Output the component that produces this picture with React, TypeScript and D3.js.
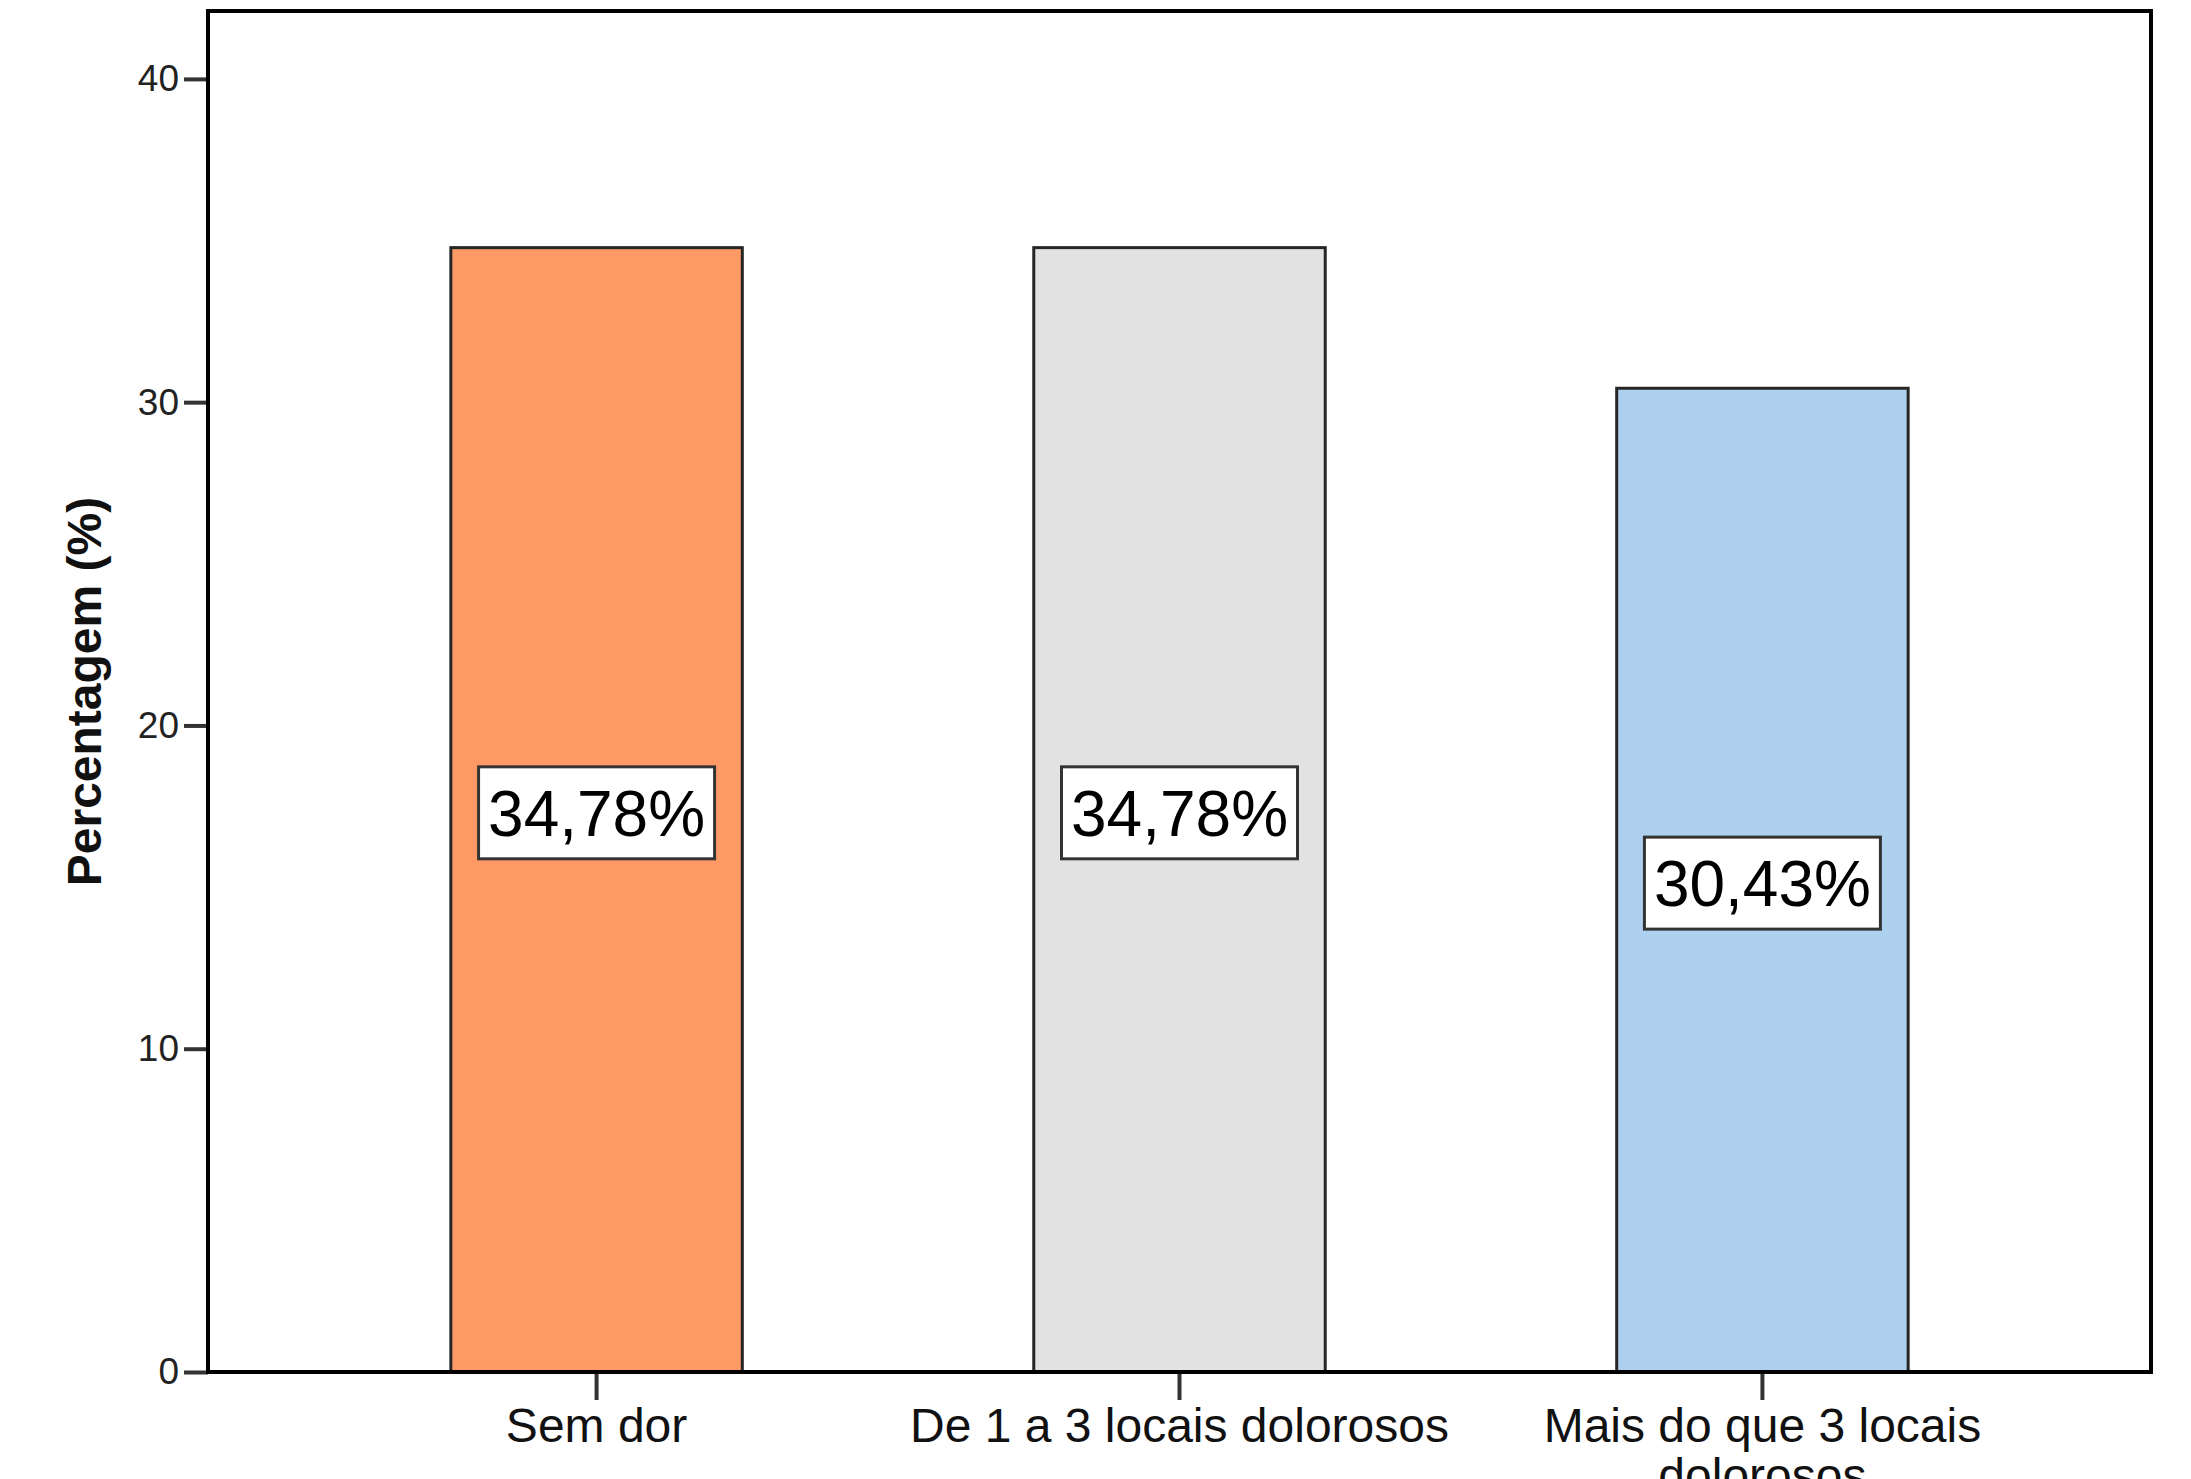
import { axisBottom, axisLeft, scaleBand, scaleLinear, select } from "d3";
import { useEffect, useRef } from "react";

const categories = ["Sem dor", "De 1 a 3 locais dolorosos", "Mais do que 3 locais dolorosos"];
const percentages = [34.78, 34.78, 30.43];
const valueLabels = ["34,78%", "34,78%", "30,43%"];
const barColors = ["#FF9966", "#E2E2E2", "#ADD0EE"];
const yTicks = [0, 10, 20, 30, 40];
const yMax = 42.1;

const WIDTH = 2191;
const HEIGHT = 1479;
const FONT = "'Liberation Sans', Arial, sans-serif";

export default function App() {
  const svgRef = useRef<SVGSVGElement | null>(null);

  useEffect(() => {
    if (!svgRef.current) return;
    const svg = select(svgRef.current);
    svg.selectAll("*").remove();

    const margin = { top: 11, right: 40, bottom: 107, left: 208 };
    const innerWidth = WIDTH - margin.left - margin.right;
    const innerHeight = HEIGHT - margin.top - margin.bottom;

    const xScale = scaleBand<string>()
      .domain(categories)
      .range([0, innerWidth])
      .paddingInner(0.5)
      .paddingOuter(0.4166);
    const yScale = scaleLinear().domain([0, yMax]).range([innerHeight, 0]);

    svg.append("rect").attr("width", WIDTH).attr("height", HEIGHT).attr("fill", "#fff");

    const chart = svg.append("g").attr("transform", `translate(${margin.left},${margin.top})`);

    // bars
    chart
      .selectAll("rect.bar")
      .data(categories)
      .join("rect")
      .attr("class", "bar")
      .attr("x", (c) => xScale(c) ?? 0)
      .attr("y", (_, i) => yScale(percentages[i]))
      .attr("width", xScale.bandwidth())
      .attr("height", (_, i) => innerHeight - yScale(percentages[i]))
      .attr("fill", (_, i) => barColors[i])
      .attr("stroke", "#262626")
      .attr("stroke-width", 3);

    // value labels in boxes
    const labels = chart
      .selectAll("g.vlabel")
      .data(categories)
      .join("g")
      .attr("class", "vlabel")
      .attr(
        "transform",
        (c, i) =>
          `translate(${(xScale(c) ?? 0) + xScale.bandwidth() / 2},${yScale(percentages[i] / 2) + 3})`,
      );
    labels
      .append("rect")
      .attr("x", -118)
      .attr("y", -46)
      .attr("width", 236)
      .attr("height", 92)
      .attr("fill", "#fff")
      .attr("stroke", "#333")
      .attr("stroke-width", 3);
    labels
      .append("text")
      .attr("text-anchor", "middle")
      .attr("dy", "0.36em")
      .attr("font-family", FONT)
      .attr("font-size", 64)
      .attr("fill", "#000")
      .text((_, i) => valueLabels[i]);

    // y axis
    const yAxis = axisLeft(yScale).tickValues(yTicks).tickSize(24).tickPadding(5);
    const yAxisGroup = chart.append("g").call(yAxis);
    yAxisGroup.select(".domain").remove();
    yAxisGroup.selectAll("line").attr("stroke", "#333").attr("stroke-width", 4);
    yAxisGroup
      .selectAll("text")
      .attr("font-family", FONT)
      .attr("font-size", 37)
      .attr("fill", "#222");

    // x axis
    const xAxis = axisBottom(xScale).tickSize(28).tickPadding(8);
    const xAxisGroup = chart.append("g").attr("transform", `translate(0,${innerHeight})`).call(xAxis);
    xAxisGroup.select(".domain").remove();
    xAxisGroup.selectAll("line").attr("stroke", "#333").attr("stroke-width", 4);
    xAxisGroup
      .selectAll<SVGTextElement, string>("text")
      .attr("font-family", FONT)
      .attr("font-size", 48)
      .attr("fill", "#111")
      .each(function (label) {
        wrapText(select(this), label, 570);
      });

    // frame
    chart
      .append("rect")
      .attr("width", innerWidth)
      .attr("height", innerHeight)
      .attr("fill", "none")
      .attr("stroke", "#000")
      .attr("stroke-width", 4);

    // y title
    svg
      .append("text")
      .attr("transform", `translate(84,${margin.top + innerHeight / 2}) rotate(-90)`)
      .attr("text-anchor", "middle")
      .attr("dy", "0.35em")
      .attr("font-family", FONT)
      .attr("font-weight", "bold")
      .attr("font-size", 48)
      .attr("fill", "#111")
      .text("Percentagem (%)");
  }, []);

  return (
    <svg
      ref={svgRef}
      width={WIDTH}
      height={HEIGHT}
      style={{ position: "absolute", left: 0, top: 0, display: "block" }}
    />
  );
}

function wrapText(text: any, label: string, maxWidth: number) {
  const words = label.split(" ");
  const y = text.attr("y");
  const dy = parseFloat(text.attr("dy")) || 0;
  text.text(null);
  let line: string[] = [];
  let lineNo = 0;
  let tspan = text.append("tspan").attr("x", 0).attr("y", y).attr("dy", `${dy}em`);
  for (const word of words) {
    line.push(word);
    tspan.text(line.join(" "));
    if ((tspan.node() as SVGTSpanElement).getComputedTextLength() > maxWidth && line.length > 1) {
      line.pop();
      tspan.text(line.join(" "));
      line = [word];
      lineNo += 1;
      tspan = text
        .append("tspan")
        .attr("x", 0)
        .attr("y", y)
        .attr("dy", `${lineNo * 1.05 + dy}em`)
        .text(word);
    }
  }
}
